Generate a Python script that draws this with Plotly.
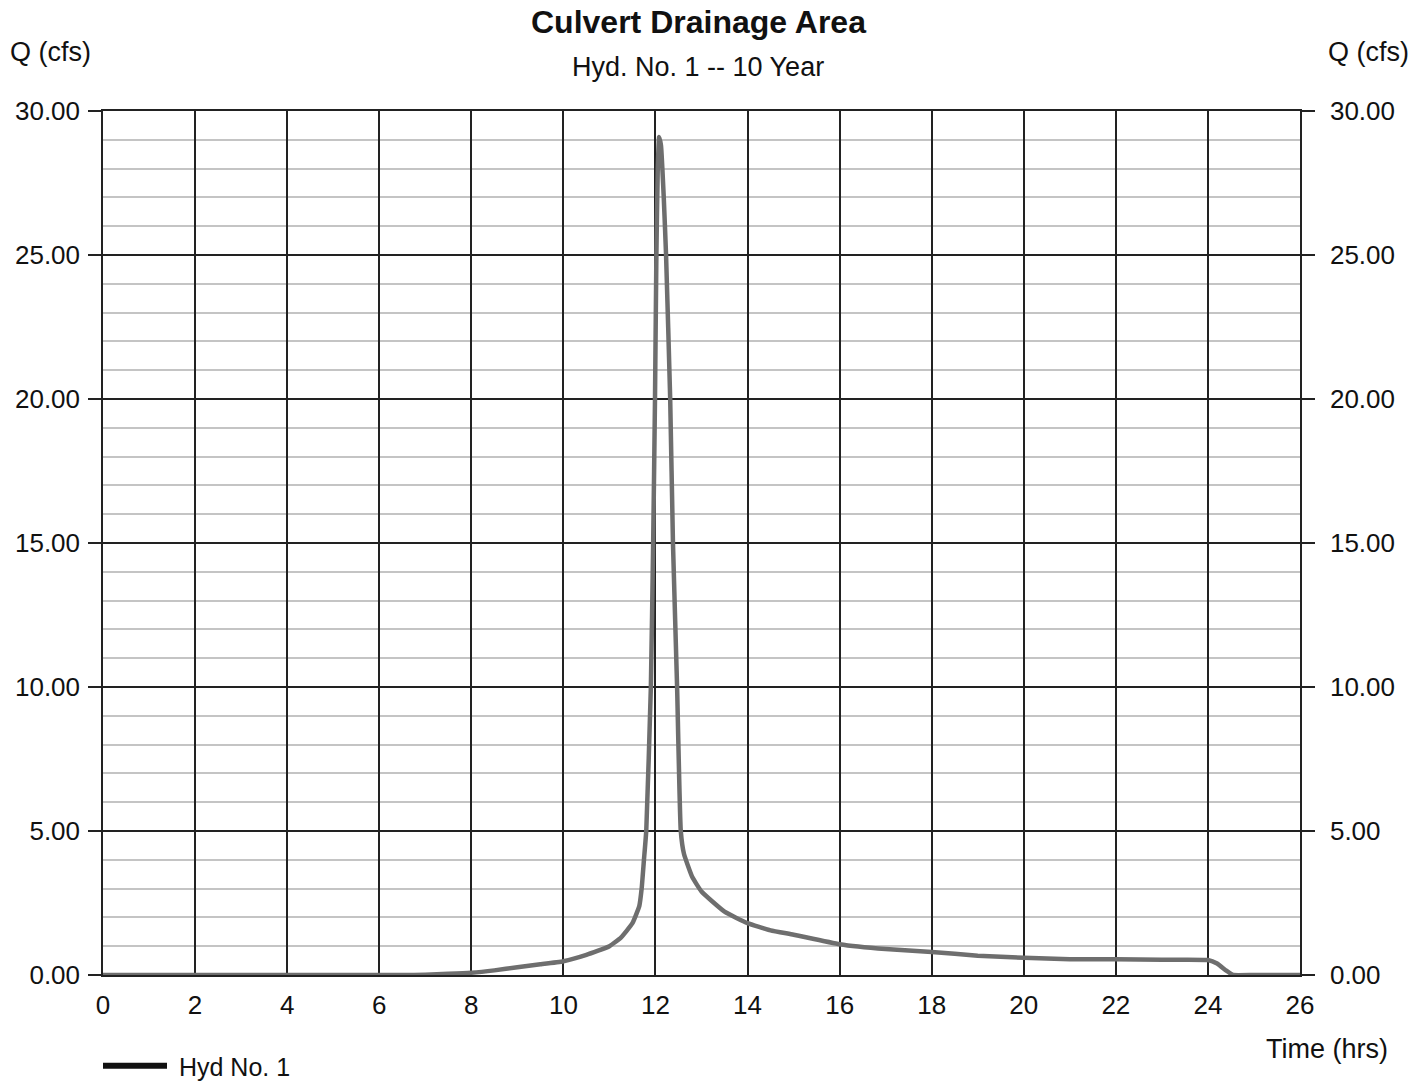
import plotly.graph_objects as go

# Hydrograph values (hours, cfs)
time_hrs = [0, 2, 4, 6, 6.5, 7, 7.5, 8, 8.5, 9, 9.5, 10, 10.5, 11, 11.25, 11.5, 11.65,
            11.7, 11.75, 11.8, 11.9, 11.95, 11.99, 12.02, 12.05, 12.08, 12.12, 12.18,
            12.23, 12.32, 12.38, 12.47, 12.55, 12.62, 12.8, 13.0, 13.5, 14, 14.5, 15,
            16, 17, 18, 19, 20, 21, 22, 23, 24, 24.2, 24.4, 24.55, 25, 26]
flow_cfs = [0, 0, 0, 0, 0, 0.01, 0.04, 0.08, 0.16, 0.27, 0.37, 0.48, 0.7, 1.0, 1.3, 1.8, 2.4,
            3.0, 4.0, 5.0, 10.0, 15.0, 20.0, 25.0, 28.0, 29.1, 28.8, 27.0,
            25.0, 20.0, 15.0, 10.0, 5.0, 4.2, 3.4, 2.9, 2.2, 1.8, 1.55, 1.4,
            1.07, 0.9, 0.8, 0.67, 0.6, 0.55, 0.55, 0.53, 0.52, 0.4, 0.15, 0.0, 0.0, 0.0]

x_ticks = list(range(0, 27, 2))
y_ticks = [0, 5, 10, 15, 20, 25, 30]
y_tick_labels = [f"{v:.2f}" for v in y_ticks]

FONT = "Liberation Sans, Arial, sans-serif"
W, H = 1427, 1084
ML, MR, MT, MB = 103, 127, 111, 109
pw, ph = W - ML - MR, H - MT - MB

fig = go.Figure()
fig.add_trace(go.Scatter(x=time_hrs, y=flow_cfs, mode="lines",
                         line=dict(color="#6e6e6e", width=4.5, shape="spline", smoothing=0.4),
                         showlegend=False, hoverinfo="skip"))
# legend entry (black sample as in reference)
fig.add_trace(go.Scatter(x=[None], y=[None], mode="lines", name="\u00a0Hyd No. 1",
                         line=dict(color="#111111", width=6)))
# right axis mirror
fig.add_trace(go.Scatter(x=[None], y=[None], yaxis="y2", showlegend=False))

fig.update_layout(
    width=W, height=H,
    margin=dict(l=ML, r=MR, t=MT, b=MB, autoexpand=False),
    paper_bgcolor="white", plot_bgcolor="white",
    font=dict(family=FONT, size=26, color="#111111"),
    xaxis=dict(range=[0, 26], tickmode="array", tickvals=x_ticks,
               showgrid=True, gridcolor="#222222", gridwidth=1.5,
               zeroline=False, showline=True, linecolor="#222222", linewidth=1.5,
               mirror=True, ticks="outside", ticklen=6, tickcolor="rgba(0,0,0,0)",
               tickfont=dict(size=26)),
    yaxis=dict(range=[0, 30], tickmode="array", tickvals=y_ticks, ticktext=y_tick_labels,
               showgrid=True, gridcolor="#222222", gridwidth=1.5,
               zeroline=False, showline=True, linecolor="#222222", linewidth=1.5,
               ticks="outside", ticklen=13, tickcolor="#222222", tickwidth=1.5,
               ticklabelstandoff=3,
               minor=dict(dtick=1, showgrid=True, gridcolor="#c4c4c4", gridwidth=1.5),
               tickfont=dict(size=26)),
    yaxis2=dict(range=[0, 30], overlaying="y", side="right", tickmode="array",
                tickvals=y_ticks, ticktext=y_tick_labels, showgrid=False,
                zeroline=False, showline=True, linecolor="#222222", linewidth=1.5,
                ticks="outside", ticklen=13, tickcolor="#222222", tickwidth=1.5,
                ticklabelstandoff=10,
                tickfont=dict(size=26)),
    legend=dict(x=-5 / pw, y=-(MB + 5) / ph, xanchor="left", yanchor="bottom", orientation="h",
                itemwidth=64, font=dict(size=25), bgcolor="rgba(0,0,0,0)",
                borderwidth=0),
)


def ann(text, px, py, size):
    fig.add_annotation(text=text, showarrow=False, font=dict(size=size),
                       xref="paper", yref="paper",
                       x=(px - ML) / pw, y=(H - py - MB) / ph,
                       xanchor="center", yanchor="middle")


ann("<b>Culvert Drainage Area</b>", 698, 22, 32)
ann("Hyd. No. 1 -- 10 Year", 698, 67, 27)
ann("Q (cfs)", 50, 52, 27)
ann("Q (cfs)", 1368, 52, 27)
ann("Time (hrs)", 1327, 1049, 27)

fig.write_html("out.html")
